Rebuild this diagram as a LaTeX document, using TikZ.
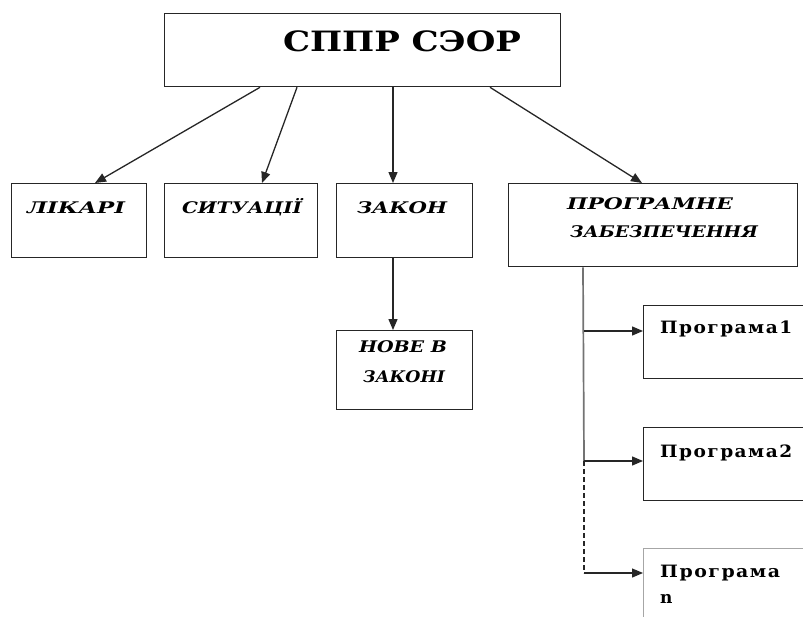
\documentclass[tikz,border=0pt]{standalone}
\usepackage{fontspec}
\usepackage{graphicx}
\setmainfont{DejaVu Serif}
\newfontfamily\progserif[LetterSpace=8]{DejaVu Serif}
\newcommand{\fitw}[2]{\resizebox{#1}{\height}{#2}}
\usetikzlibrary{arrows.meta}
\begin{document}
\begin{tikzpicture}[x=1pt,y=-1pt,
  box/.style={draw=black!85,line width=1.3pt,rectangle,inner sep=0pt,anchor=north west},
  lbl/.style={inner sep=0pt,anchor=base,font=\fontsize{16}{28}\selectfont\bfseries\itshape},
  plbl/.style={inner sep=0pt,anchor=base west,align=left,font=\progserif\fontsize{17}{26}\selectfont\bfseries},
  arr/.style={draw=black!85,line width=1.3pt,-{Triangle[length=11pt,width=9pt]}},
  conn/.style={draw=black!85,line width=1.3pt}]
\useasboundingbox (0,0) rectangle (803,616);
\clip (0,0) rectangle (803,616);
% boxes
\node[box,minimum width=396,minimum height=73] (top) at (164,13) {};
\node[box,minimum width=135,minimum height=74] (lik) at (11,183) {};
\node[box,minimum width=153,minimum height=74] (sit) at (164,183) {};
\node[box,minimum width=136,minimum height=74] (zak) at (336,183) {};
\node[box,minimum width=289,minimum height=83] (prog) at (508,183) {};
\node[box,minimum width=136,minimum height=79] (nove) at (336,330) {};
\node[box,minimum width=200,minimum height=73] (p1) at (643,305) {};
\node[box,minimum width=200,minimum height=73] (p2) at (643,427) {};
\node[box,draw=black!35,minimum width=200,minimum height=100] (pn) at (643,548) {};
% texts
\node[inner sep=0pt,anchor=base,font=\fontsize{28}{32}\selectfont\bfseries] (ttop) at (402,51) {\fitw{238pt}{СППР СЭОР}};
\node[lbl] (tlik) at (76,213) {\fitw{98pt}{ЛІКАРІ}};
\node[lbl] (tsit) at (242,213) {\fitw{120pt}{СИТУАЦІЇ}};
\node[lbl] (tzak) at (402,213) {\fitw{90pt}{ЗАКОН}};
\node[lbl] (tprog1) at (650,209) {\fitw{166pt}{ПРОГРАМНЕ}};
\node[lbl] (tprog2) at (664,237) {\fitw{188pt}{ЗАБЕЗПЕЧЕННЯ}};
\node[lbl] (tnove1) at (403,352) {\fitw{88pt}{НОВЕ В}};
\node[lbl] (tnove2) at (404,382) {\fitw{82pt}{ЗАКОНІ}};
\node[plbl] (tp1) at (660,333) {\fitw{132pt}{Програма1}};
\node[plbl] (tp2) at (660,457) {\fitw{132pt}{Програма2}};
\node[plbl] (tpn1) at (660,577) {\fitw{120pt}{Програма}};
\node[plbl] (tpn2) at (660,603) {n};
% connectors
\draw[arr] (260,0 |- top.south) -- (95,0 |- lik.north);
\draw[arr] (297,0 |- top.south) -- (262,0 |- sit.north);
\draw[arr] (393,0 |- top.south) -- (393,0 |- zak.north);
\draw[arr] (490,0 |- top.south) -- (642,0 |- prog.north);
\draw[arr] (393,0 |- zak.south) -- (393,0 |- nove.north);
\coordinate (v0) at (583,0 |- prog.south);
\coordinate (v1) at (584,331);
\coordinate (v2) at (584,461);
\coordinate (v3) at (584,573);
\draw[draw=black!55,line width=1.7pt] (v0) -- (v2);
\draw[conn,dashed,dash pattern=on 5pt off 3pt] (v2) -- (v3);
\draw[arr] (v1) -- (v1 -| p1.west);
\draw[arr] (v2) -- (v2 -| p2.west);
\draw[arr] (v3) -- (v3 -| pn.west);
\end{tikzpicture}
\end{document}
